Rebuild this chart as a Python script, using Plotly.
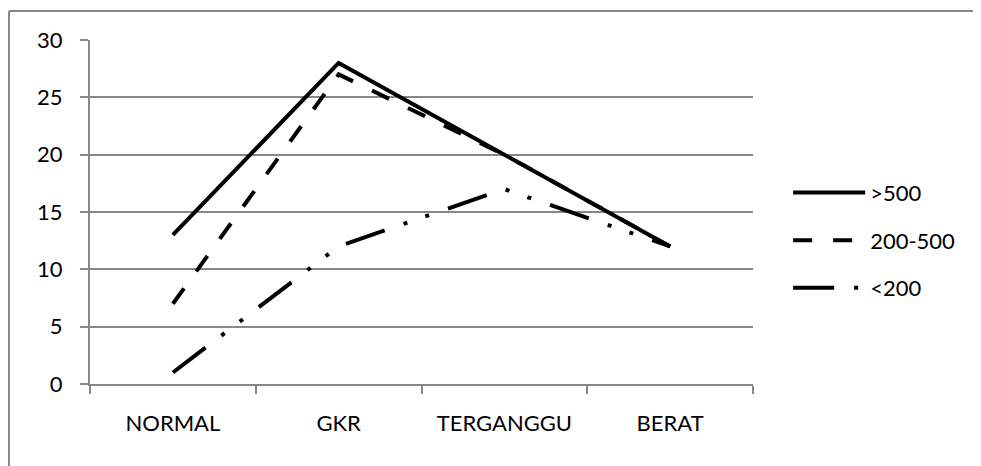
import plotly.graph_objects as go

categories = ["NORMAL", "GKR", "TERGANGGU", "BERAT"]
series_names = [">500", "200-500", "<200"]
values_gt500 = [13, 28, 20, 12]
values_200_500 = [7, 27, 20, 12]
values_lt200 = [1, 12, 17, 12]
y_ticks = [0, 5, 10, 15, 20, 25, 30]

FONT = "Lato"
GRID = "#878787"

dashes = ["solid", "19px,21px", "41px,20px,4px,19px,4px,20px"]
all_values = [values_gt500, values_200_500, values_lt200]

fig = go.Figure()
for i, (name, vals) in enumerate(zip(series_names, all_values)):
    fig.add_trace(go.Scatter(
        x=categories, y=vals, name=name, mode="lines",
        line=dict(color="black", width=4, dash=dashes[i]),
        legendgroup=name,
    ))

bx0 = (9 - 90) / 663
by1 = (384 - 11) / 344

# page body has an 8px default margin; figure is sized to fill the rest
fig.update_layout(
    width=973, height=458,
    margin=dict(l=82, r=228, t=32, b=82),
    paper_bgcolor="white", plot_bgcolor="white",
    font=dict(family=FONT, size=22, color="black"),
    showlegend=True,
    legend=dict(x=1.053, xanchor="left", y=0.617, yanchor="top",
                itemwidth=72, tracegroupgap=16,
                font=dict(family=FONT, size=22, color="black"),
                bgcolor="rgba(0,0,0,0)"),
    xaxis=dict(
        type="category", range=[-0.5, 3.5],
        showline=True, linecolor=GRID, linewidth=2,
        ticks="outside", tickson="boundaries", ticklen=8, tickcolor=GRID, tickwidth=2,
        showgrid=False, ticklabelstandoff=19,
    ),
    yaxis=dict(
        range=[0, 30], tickvals=y_ticks,
        showline=True, linecolor=GRID, linewidth=2,
        ticks="outside", ticklen=8, tickcolor=GRID, tickwidth=2,
        showgrid=True, gridcolor=GRID, gridwidth=1.5,
        zeroline=False, ticklabelstandoff=13,
    ),
    shapes=[
        dict(type="line", xref="paper", yref="paper",
             x0=bx0, x1=1.5, y0=by1, y1=by1,
             line=dict(color=GRID, width=2), layer="below"),
        dict(type="line", xref="paper", yref="paper",
             x0=bx0, x1=bx0, y0=-0.5, y1=by1,
             line=dict(color=GRID, width=2), layer="below"),
    ],
)

fig.write_html("out.html")
